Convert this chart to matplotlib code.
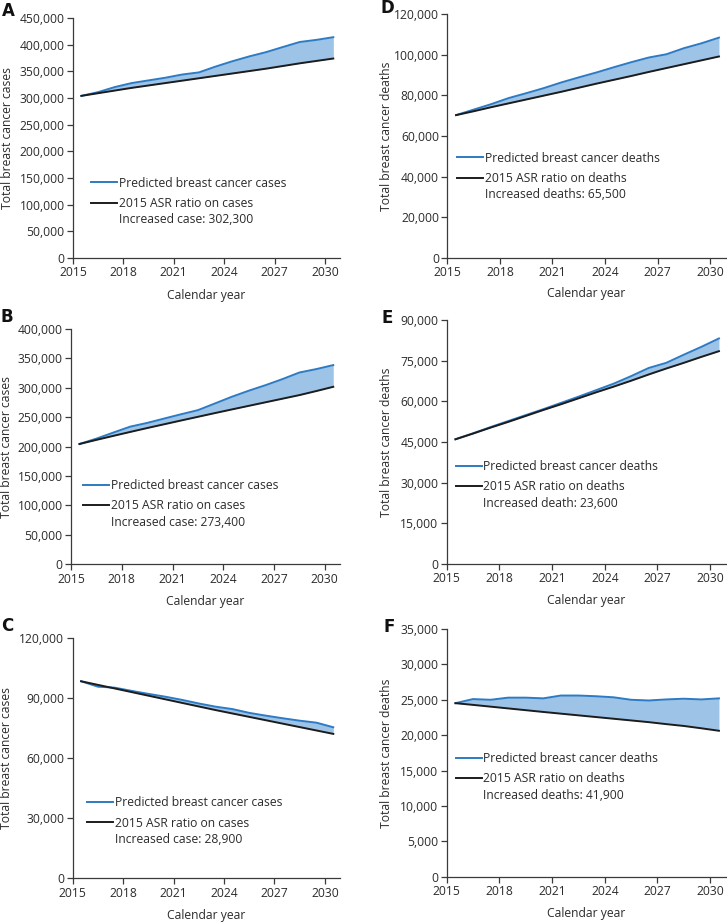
import numpy as np
import matplotlib
matplotlib.use('Agg')
import matplotlib.pyplot as plt
from matplotlib.lines import Line2D
from matplotlib.ticker import FuncFormatter

plt.rcParams['font.family'] = ['Open Sans', 'DejaVu Sans']

# years 2015-2030, drawn at the middle of each year
years = np.arange(2015, 2031)
xticks = [2015, 2018, 2021, 2024, 2027, 2030]

# A - cases, panel 1
a_pred = [304, 311, 320.6, 328, 333, 338, 344, 348, 359, 369, 378, 386, 395.6, 405, 409, 414]
a_ref = [304, 309, 314, 319, 323.5, 328, 332.5, 337, 341.5, 346, 350.5, 355, 360, 365, 369.5, 374]
# B - cases, panel 2
b_pred = [204.5, 213.6, 223.9, 234, 240.3, 247.7, 255, 262, 273.3, 284.7, 295, 304.5, 314.8, 326, 331.8, 338.6]
b_ref = [204.5, 211.5, 218.3, 225, 231.6, 238, 244.4, 250.7, 257, 263.2, 269.3, 275.4, 281.5, 287.6, 294.5, 301.7]
# C - cases, panel 3
c_pred = [98.5, 95.8, 95.3, 93.7, 92.2, 90.8, 89.2, 87.4, 85.8, 84.6, 82.7, 81.3, 80.0, 78.8, 77.8, 75.5]
c_ref = [98.5, 96.7, 94.9, 93.1, 91.3, 89.5, 87.7, 85.9, 84.1, 82.4, 80.7, 79.0, 77.3, 75.6, 73.9, 72.2]
# D - deaths, panel 1
d_pred = [70.3, 73.0, 75.7, 78.7, 81.1, 83.6, 86.4, 88.9, 91.3, 93.9, 96.4, 98.7, 100.3, 103.3, 105.7, 108.5]
d_ref = [70.3, 72.2, 74.2, 76.1, 78.0, 79.9, 81.8, 83.8, 85.8, 87.7, 89.6, 91.6, 93.5, 95.4, 97.3, 99.2]
# E - deaths, panel 2
e_pred = [46.0, 48.2, 50.5, 52.7, 54.9, 57.1, 59.4, 61.7, 64.1, 66.5, 69.3, 72.3, 74.2, 77.2, 80.1, 83.2]
e_ref = [46.0, 48.1, 50.3, 52.4, 54.6, 56.8, 58.9, 61.1, 63.3, 65.4, 67.6, 69.9, 72.1, 74.2, 76.4, 78.5]
# F - deaths, panel 3
f_pred = [24.52, 25.1, 25.0, 25.3, 25.3, 25.2, 25.6, 25.6, 25.5, 25.35, 25.0, 24.9, 25.05, 25.15, 25.05, 25.2]
f_ref = [24.52, 24.28, 24.03, 23.78, 23.53, 23.28, 23.04, 22.80, 22.56, 22.32, 22.08, 21.84, 21.56, 21.3, 20.97, 20.62]

case_labels = ['Predicted breast cancer cases', '2015 ASR ratio on cases']
death_labels = ['Predicted breast cancer deaths', '2015 ASR ratio on deaths']
increase_labels = ['Increased case: 302,300', 'Increased case: 273,400', 'Increased case: 28,900',
                   'Increased deaths: 65,500', 'Increased death: 23,600', 'Increased deaths: 41,900']

blue = '#2c7bc4'
fill = '#9dc3e6'
dark = '#1c1c1c'
txt = '#2b2b2b'
fs = 8.7

fig = plt.figure(figsize=(7.27, 9.23), dpi=100)

# panel: letter, axes rect, data, ymax, ystep, labels, legend anchor, ylabel x, xlabel y, letter pos (px)
panels = [
    ('A', [0.1004, 0.7205, 0.3673, 0.2600], a_pred, a_ref, 450000, 50000, case_labels, (0.067, 0.339), -0.243, -0.154, (8, 11)),
    ('B', [0.0977, 0.3886, 0.3700, 0.2550], b_pred, b_ref, 400000, 50000, case_labels, (0.045, 0.362), -0.239, -0.154, (7, 317)),
    ('C', [0.1000, 0.0484, 0.3677, 0.2601], c_pred, c_ref, 120000, 30000, case_labels, (0.054, 0.341), -0.247, -0.153, (7, 626)),
    ('D', [0.6153, 0.7208, 0.3833, 0.2637], d_pred, d_ref, 120000, 20000, death_labels, (0.036, 0.436), -0.217, -0.146, (387, 8)),
    ('E', [0.6144, 0.3890, 0.3842, 0.2643], e_pred, e_ref, 90000, 15000, death_labels, (0.032, 0.427), -0.215, -0.148, (387, 318)),
    ('F', [0.6144, 0.0502, 0.3842, 0.2683], f_pred, f_ref, 35000, 5000, death_labels, (0.032, 0.504), -0.215, -0.148, (389, 627)),
]

for i, (letter, rect, pred, ref, ymax, ystep, labels, anchor, ylx, xly, lpos) in enumerate(panels):
    ax = fig.add_axes(rect)
    w_px = rect[2] * 727
    h_px = rect[3] * 923
    x = years + 0.5
    p = np.array(pred) * 1000
    r = np.array(ref) * 1000
    ax.fill_between(x, r, p, color=fill, linewidth=0)
    ax.plot(x, p, color=blue, lw=1.4, zorder=3)
    ax.plot(x, r, color=dark, lw=1.4, zorder=3)

    ax.set_xlim(2015, 2030.9)
    ax.set_ylim(0, ymax)
    ax.set_xticks(xticks)
    ax.set_yticks(np.arange(0, ymax + 1, ystep))
    ax.yaxis.set_major_formatter(FuncFormatter(lambda v, pos: f'{int(v):,}'))
    for s in ['top', 'right']:
        ax.spines[s].set_visible(False)
    for s in ['left', 'bottom']:
        ax.spines[s].set_color('#3a3a3a')
        ax.spines[s].set_linewidth(0.9)
    ax.tick_params(direction='out', length=4, width=0.9, color='#3a3a3a',
                   labelsize=fs, labelcolor=txt, pad=2)

    ax.set_ylabel('Total breast cancer cases' if labels is case_labels else 'Total breast cancer deaths',
                  fontsize=fs, color=txt)
    # label coords refer to the text edge, so shift by half the text height
    ax.yaxis.set_label_coords(ylx + 6 / w_px, 0.5)
    ax.set_xlabel('Calendar year', fontsize=fs, color=txt)
    ax.xaxis.set_label_coords(0.5, xly + 6 / h_px)

    handles = [Line2D([], [], color=blue, lw=1.4),
               Line2D([], [], color=dark, lw=1.4)]
    leg = ax.legend(handles, labels, loc='upper left',
                    bbox_to_anchor=anchor, frameon=False, fontsize=fs,
                    handlelength=2.15, handletextpad=0.15, labelspacing=0.6,
                    borderpad=0, borderaxespad=0)
    for t in leg.get_texts():
        t.set_color(txt)
    # drawn after the legend so the text below it is placed from the final position
    ax.annotate(increase_labels[i], xy=(0, 0), xycoords=leg.get_texts()[1],
                xytext=(0, -2.5), textcoords='offset points', ha='left', va='top',
                fontsize=fs, color=txt, zorder=10)

    fig.text(lpos[0] / 727, 1 - lpos[1] / 923, letter, fontsize=12, fontweight='bold',
             family='DejaVu Sans', ha='center', va='center', color='#111111')

fig.savefig('out.png', dpi=100)
